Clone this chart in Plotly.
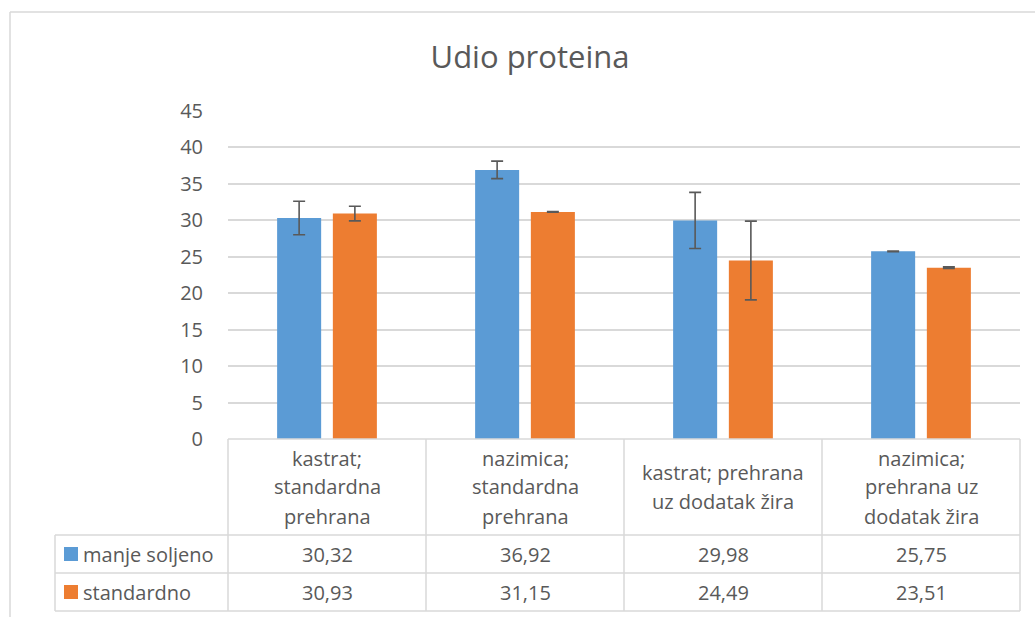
import plotly.graph_objects as go

categories = ["kastrat;\nstandardna\nprehrana",
              "nazimica;\nstandardna\nprehrana",
              "kastrat; prehrana\nuz dodatak žira",
              "nazimica;\nprehrana uz\ndodatak žira"]
series_names = ["manje soljeno", "standardno"]
manje_soljeno = [30.32, 36.92, 29.98, 25.75]
standardno = [30.93, 31.15, 24.49, 23.51]
err_manje = [2.3, 1.2, 3.85, 0.05]
err_standardno = [1.0, 0.05, 5.4, 0.1]
y_ticks = [0, 5, 10, 15, 20, 25, 30, 35, 40, 45]

BLUE = "#5B9BD5"
ORANGE = "#ED7D31"
TXT = "#595959"
GRID = "#D9D9D9"
FONT = "Open Sans"

W, H = 1035, 617
L, R, T, B = 228, 1020, 111, 439  # plot area pixels


def px(xp):
    return (xp - L) / (R - L)


def py(yp):
    return (B - yp) / (B - T)


x_idx = list(range(len(categories)))

fig = go.Figure()
fig.add_trace(go.Bar(
    x=x_idx, y=manje_soljeno, name=series_names[0],
    marker=dict(color=BLUE, line=dict(width=0)),
    error_y=dict(type="data", array=err_manje, visible=True,
                 color=TXT, thickness=1.6, width=6),
))
fig.add_trace(go.Bar(
    x=x_idx, y=standardno, name=series_names[1],
    marker=dict(color=ORANGE, line=dict(width=0)),
    error_y=dict(type="data", array=err_standardno, visible=True,
                 color=TXT, thickness=1.6, width=6),
))

shapes = []
annotations = []

# chart outer border (left + top)
shapes.append(dict(type="line", xref="paper", yref="paper",
                   x0=px(10), x1=px(1040), y0=py(12), y1=py(12),
                   line=dict(color=GRID, width=1.5)))
shapes.append(dict(type="line", xref="paper", yref="paper",
                   x0=px(10), x1=px(10), y0=py(12), y1=py(630),
                   line=dict(color=GRID, width=1.5)))

# data table geometry
hdr_bot, r1_bot, r2_bot = 535, 573, 611
leg_left = 55
ncat = len(categories)
# horizontal lines
for yy, x0 in [(B, L), (hdr_bot, leg_left), (r1_bot, leg_left), (r2_bot, leg_left)]:
    shapes.append(dict(type="line", xref="paper", yref="paper",
                       x0=px(x0), x1=px(R), y0=py(yy), y1=py(yy),
                       line=dict(color=GRID, width=1.5)))
# vertical lines
shapes.append(dict(type="line", xref="paper", yref="paper",
                   x0=px(leg_left), x1=px(leg_left), y0=py(hdr_bot), y1=py(r2_bot),
                   line=dict(color=GRID, width=1.5)))
for i in range(ncat + 1):
    xv = i / ncat
    shapes.append(dict(type="line", xref="paper", yref="paper",
                       x0=xv, x1=xv, y0=py(B), y1=py(r2_bot),
                       line=dict(color=GRID, width=1.5)))

# header text (category labels), one annotation per line
line_h = 29
hdr_center = (B + hdr_bot) / 2
for i, cat in enumerate(categories):
    lines = cat.split("\n")
    n = len(lines)
    for j, ln in enumerate(lines):
        yc = hdr_center + (j - (n - 1) / 2) * line_h
        annotations.append(dict(x=i, xref="x", y=py(yc), yref="paper",
                                text=ln, showarrow=False,
                                xanchor="center", yanchor="middle",
                                font=dict(family=FONT, size=20, color=TXT)))

# value rows
rows = [(manje_soljeno, (hdr_bot + r1_bot) / 2, BLUE, series_names[0]),
        (standardno, (r1_bot + r2_bot) / 2, ORANGE, series_names[1])]
for vals, yc, col, name in rows:
    for i, v in enumerate(vals):
        annotations.append(dict(x=i, xref="x", y=py(yc), yref="paper",
                                text=f"{v:.2f}".replace(".", ","), showarrow=False,
                                xanchor="center", yanchor="middle",
                                font=dict(family=FONT, size=20, color=TXT)))
    # legend key
    shapes.append(dict(type="rect", xref="paper", yref="paper",
                       x0=px(64), x1=px(78), y0=py(yc - 7), y1=py(yc + 7),
                       fillcolor=col, line=dict(width=0)))
    annotations.append(dict(x=px(81), xref="paper", y=py(yc), yref="paper",
                            text=name, showarrow=False,
                            xanchor="left", yanchor="middle",
                            font=dict(family=FONT, size=20, color=TXT)))

fig.update_layout(
    width=W, height=H,
    margin=dict(l=L, r=W - R, t=T, b=H - B, pad=0),
    paper_bgcolor="white", plot_bgcolor="white",
    title=dict(text="Udio proteina", xref="container", x=530 / W, xanchor="center",
               yref="container", y=1 - 57 / H, yanchor="middle",
               font=dict(family=FONT, size=31, color=TXT)),
    showlegend=False,
    barmode="group", bargap=0.437, bargroupgap=0.21,
    xaxis=dict(range=[-0.5, ncat - 0.5], showticklabels=False, showgrid=False,
               zeroline=False, showline=False, ticks=""),
    yaxis=dict(range=[0, 45], tickvals=y_ticks, showgrid=True, gridcolor=GRID,
               gridwidth=1.5, zeroline=False, showline=False, ticks="",
               ticklabelstandoff=24,
               tickfont=dict(family=FONT, size=20, color=TXT)),
    shapes=shapes, annotations=annotations,
    font=dict(family=FONT, color=TXT),
)

fig.write_html("out.html", config={"displayModeBar": False},
               post_script="document.body.style.margin='0';document.body.style.overflow='hidden';")
